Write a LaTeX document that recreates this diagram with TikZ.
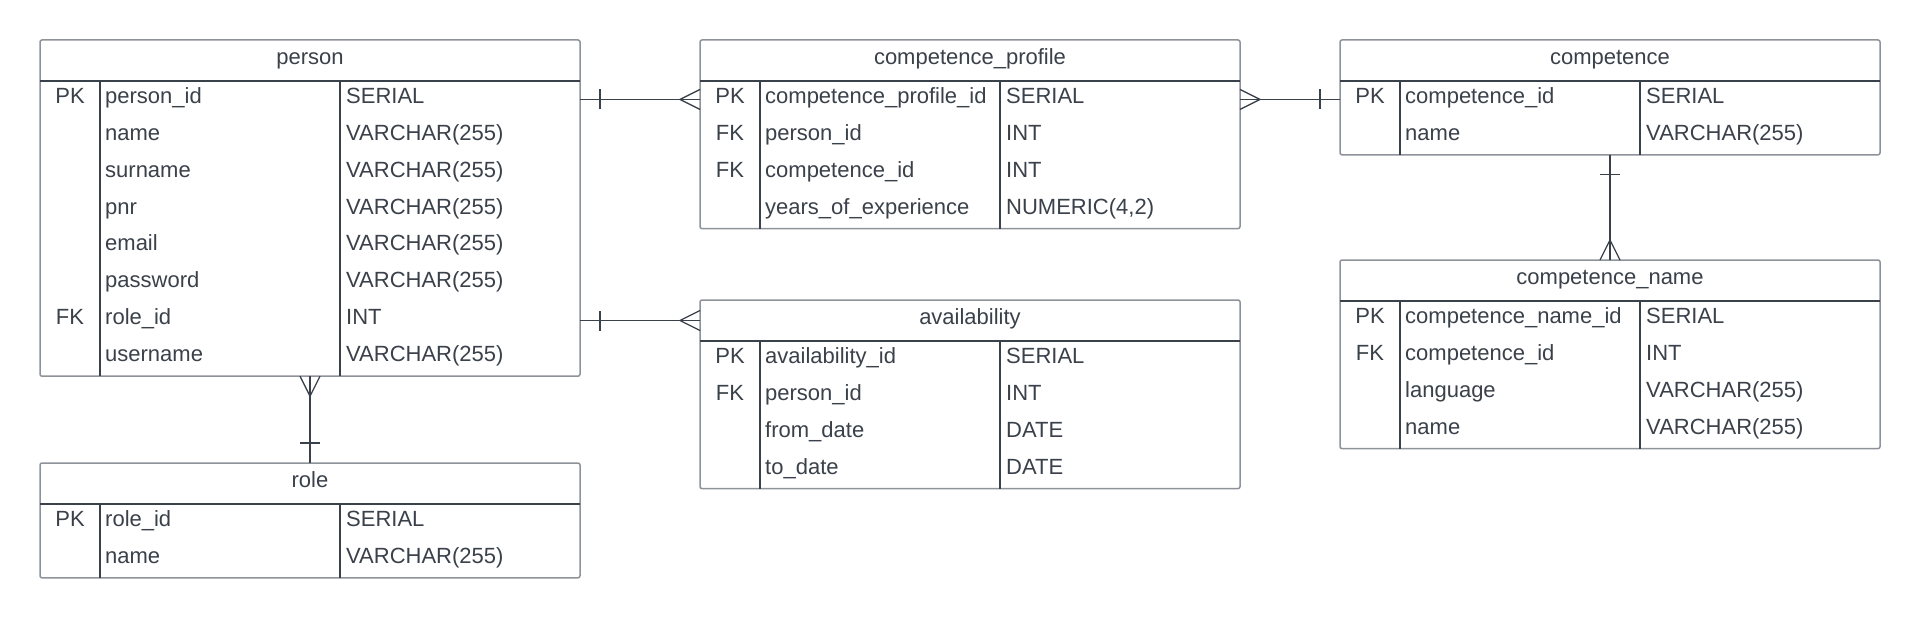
\documentclass[tikz,border=0pt]{standalone}
\usepackage{fontspec}
\setmainfont{Liberation Sans}
\definecolor{ink}{HTML}{3A414A}
\definecolor{edgegray}{HTML}{8E939A}
\tikzset{
  tblbox/.style={draw=edgegray, line width=1.5pt, rounded corners=2pt, inner sep=0pt, outer sep=0pt, minimum width=540pt, anchor=north west},
  innerline/.style={draw=ink, line width=1.2pt},
  hdr/.style={font=\fontsize{22}{26}\selectfont, text=ink, anchor=base, inner sep=0pt},
  cell/.style={font=\fontsize{22}{26}\selectfont, text=ink, anchor=base west, inner sep=0pt},
  keycell/.style={font=\fontsize{22}{26}\selectfont, text=ink, anchor=base, inner sep=0pt},
  conn/.style={draw=ink, line width=1.3pt},
  crow/.pic={\draw[conn] (0,10) -- (20,0) -- (0,-10);},
  onebar/.pic={\draw[conn] (20,10) -- (20,-10);}
}
\newcommand\ertable[6]{%
  \pgfmathsetmacro\erh{41+36.9*#4}%
  \node[tblbox, minimum height=\erh pt] (#1) at (#2,#3) {};
  \coordinate (#1-h) at (#2,#3+20.5);
  \node[hdr] (#1-title) at (#2+270,#3+24.5) {#5};
  \draw[innerline] (#2,#3+41) -- (#2+540,#3+41);
  \draw[innerline] (#2+60,#3+41) -- (#2+60,#3+\erh);
  \draw[innerline] (#2+300,#3+41) -- (#2+300,#3+\erh);
  \foreach \colA/\colB/\colC [count=\i] in {#6}{%
    \coordinate (#1-r\i) at (#2,#3+41+36.9*\i-18.45);
    \node[keycell] (#1-k\i) at (#2+30,#3+41+36.9*\i-14.6) {\colA};
    \node[cell] (#1-f\i) at (#2+65,#3+41+36.9*\i-14.6) {\colB};
    \node[cell] (#1-y\i) at (#2+306,#3+41+36.9*\i-14.6) {\colC};
  }%
}
\begin{document}
\begin{tikzpicture}[x=1pt,y=-1pt]
\fill[white] (0,0) rectangle (1920,618);
\useasboundingbox (0,0) rectangle (1920,618);

\ertable{person}{40}{40}{8}{person}{PK/person\_id/SERIAL, {}/name/VARCHAR(255), {}/surname/VARCHAR(255), {}/pnr/VARCHAR(255), {}/email/VARCHAR(255), {}/password/VARCHAR(255), FK/role\_id/INT, {}/username/VARCHAR(255)}
\ertable{role}{40}{463}{2}{role}{PK/role\_id/SERIAL, {}/name/VARCHAR(255)}
\ertable{cprof}{700}{40}{4}{competence\_profile}{PK/competence\_profile\_id/SERIAL, FK/person\_id/INT, FK/competence\_id/INT, {}/years\_of\_experience/{NUMERIC(4,2)}}
\ertable{avail}{700}{300}{4}{availability}{PK/availability\_id/SERIAL, FK/person\_id/INT, {}/from\_date/DATE, {}/to\_date/DATE}
\ertable{comp}{1340}{40}{2}{competence}{PK/competence\_id/SERIAL, {}/name/VARCHAR(255)}
\ertable{cname}{1340}{260}{4}{competence\_name}{PK/competence\_name\_id/SERIAL, FK/competence\_id/INT, {}/language/VARCHAR(255), {}/name/VARCHAR(255)}

% person -> competence_profile
\draw[conn] (person.east |- person-r1) -- (cprof.west |- person-r1);
\pic[rotate=0] at (person.east |- person-r1) {onebar};
\pic[rotate=180] at (cprof.west |- person-r1) {crow};
% person -> availability
\draw[conn] (person.east |- avail-h) -- (avail.west |- avail-h);
\pic[rotate=0] at (person.east |- avail-h) {onebar};
\pic[rotate=180] at (avail.west |- avail-h) {crow};
% competence_profile -> competence
\draw[conn] (cprof.east |- cprof-r1) -- (comp.west |- cprof-r1);
\pic[rotate=0] at (cprof.east |- cprof-r1) {crow};
\pic[rotate=180] at (comp.west |- cprof-r1) {onebar};
% competence -> competence_name
\draw[conn] (comp.south) -- (cname.north);
\pic[rotate=-90] at (comp.south) {onebar};
\pic[rotate=90] at (cname.north) {crow};
% person -> role
\draw[conn] (person.south) -- (role.north);
\pic[rotate=-90] at (person.south) {crow};
\pic[rotate=90] at (role.north) {onebar};
\end{tikzpicture}
\end{document}
